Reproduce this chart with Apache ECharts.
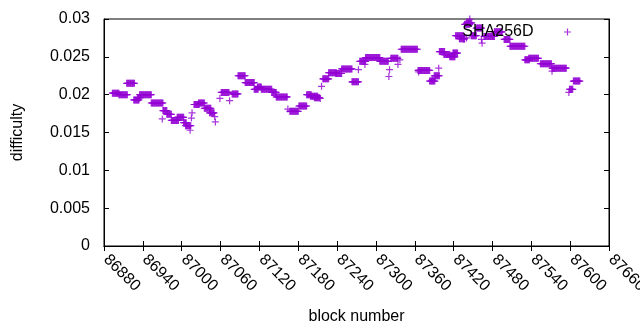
<!DOCTYPE html>
<html>
<head>
<meta charset="utf-8">
<script src="https://cdn.jsdelivr.net/npm/echarts@6/dist/echarts.min.js"></script>
<style>
  html, body { margin: 0; padding: 0; background: #fff; }
  #chart { width: 640px; height: 330px; }
</style>
</head>
<body>
<div id="chart"></div>
<script>
// runs of blocks that share one difficulty value (first block, last block, value)
const runStart = [86893, 86903, 86915, 86926, 86932, 86935, 86953, 86970, 86971, 86977,
  86984, 86993, 87003, 87006, 87013, 87015, 87016, 87019, 87026, 87035,
  87043, 87051, 87052, 87059, 87061, 87074, 87078, 87087, 87098, 87112,
  87117, 87123, 87139, 87146, 87164, 87167, 87181, 87193, 87199, 87205,
  87214, 87216, 87218, 87227, 87238, 87247, 87263, 87273, 87275, 87283,
  87284, 87306, 87320, 87321, 87323, 87334, 87337, 87339, 87365, 87366,
  87383, 87387, 87390, 87397, 87398, 87405, 87414, 87419, 87423, 87429,
  87436, 87437, 87440, 87440, 87445, 87447, 87455, 87463, 87464, 87467,
  87483, 87498, 87507, 87530, 87536, 87554, 87572, 87572, 87598, 87599,
  87605]
const runEnd = [86903, 86916, 86927, 86934, 86936, 86953, 86971, 86970, 86977, 86984,
  86995, 87003, 87007, 87014, 87013, 87015, 87016, 87027, 87035, 87045,
  87050, 87051, 87052, 87059, 87073, 87074, 87087, 87098, 87112, 87118,
  87123, 87139, 87146, 87163, 87164, 87180, 87193, 87200, 87210, 87213,
  87214, 87216, 87227, 87239, 87247, 87263, 87273, 87273, 87284, 87283,
  87306, 87319, 87320, 87321, 87334, 87334, 87337, 87364, 87383, 87366,
  87391, 87387, 87398, 87397, 87406, 87414, 87422, 87426, 87435, 87437,
  87436, 87445, 87440, 87448, 87445, 87455, 87463, 87463, 87464, 87483,
  87495, 87507, 87530, 87537, 87551, 87571, 87594, 87572, 87598, 87604,
  87615]
const runValue = [0.0202, 0.0200, 0.0215, 0.0193, 0.0196, 0.0200, 0.0189, 0.0168, 0.0179, 0.0174,
  0.0166, 0.0170, 0.0163, 0.0159, 0.0153, 0.0169, 0.0176, 0.0187, 0.0189, 0.0182,
  0.0176, 0.0171, 0.0164, 0.0195, 0.0203, 0.0192, 0.0201, 0.0225, 0.0216, 0.0207,
  0.0210, 0.0207, 0.0203, 0.0197, 0.0181, 0.0178, 0.0185, 0.0200, 0.0198, 0.0196,
  0.0195, 0.0211, 0.0221, 0.0229, 0.0228, 0.0234, 0.0217, 0.0233, 0.0244, 0.0240,
  0.0249, 0.0244, 0.0224, 0.0233, 0.0248, 0.0240, 0.0246, 0.0260, 0.0232, 0.0230,
  0.0218, 0.0220, 0.0225, 0.0235, 0.0257, 0.0253, 0.0250, 0.0255, 0.0278, 0.0274,
  0.0273, 0.0293, 0.0275, 0.0295, 0.0300, 0.0278, 0.0288, 0.0273, 0.0268, 0.0277,
  0.0283, 0.0273, 0.0264, 0.0246, 0.0248, 0.0241, 0.0235, 0.0231, 0.0203, 0.0207,
  0.0218]

const yTickLabels = ['0', '0.005', '0.01', '0.015', '0.02', '0.025', '0.03']
const seriesName = 'SHA256D'

// one point per block
const points = []
for (let i = 0; i < runStart.length; i++) {
  for (let b = runStart[i]; b <= runEnd[i]; b++) {
    points.push([b, runValue[i]])
  }
}

// gnuplot style "+" mark
const plus = 'path://M2.9,0h1.2v2.9h2.9v1.2h-2.9v2.9h-1.2v-2.9h-2.9v-1.2h2.9z'
const font = "'Liberation Sans', Arial, sans-serif"
const purple = '#9400d3'

const chart = echarts.init(document.getElementById('chart'), null, { renderer: 'canvas' })

const mirrorTick = { show: true, inside: true, length: 5, lineStyle: { color: '#000', width: 1 } }

chart.setOption({
  animation: false,
  textStyle: { fontFamily: font },
  grid: {
    left: 104,
    right: 31,
    top: 19,
    bottom: 84,
    outerBoundsMode: 'none',
    containLabel: false,
    show: true,
    borderColor: '#000',
    borderWidth: 1
  },
  legend: {
    data: [{ name: seriesName, icon: plus }],
    right: 69,
    top: 24,
    padding: 0,
    align: 'right',
    itemWidth: 58,
    itemHeight: 7,
    itemStyle: { color: purple },
    textStyle: { color: '#000', fontSize: 16, fontFamily: font },
    selectedMode: false
  },
  xAxis: [{
    type: 'value',
    min: 86880,
    max: 87660,
    interval: 60,
    name: 'block number',
    nameLocation: 'middle',
    nameGap: 63,
    nameTextStyle: { color: '#000', fontSize: 16 },
    axisLine: { show: true, lineStyle: { color: '#000' } },
    axisTick: mirrorTick,
    splitLine: { show: false },
    axisLabel: {
      rotate: -45,
      margin: 9,
      padding: [0, 0, 0, 3],
      color: '#000',
      fontSize: 16,
      formatter: v => String(v)
    }
  }, {
    type: 'value',
    position: 'top',
    min: 86880,
    max: 87660,
    interval: 60,
    axisLine: { show: true, lineStyle: { color: '#000' } },
    axisTick: mirrorTick,
    axisLabel: { show: false },
    splitLine: { show: false }
  }],
  yAxis: [{
    type: 'value',
    min: 0,
    max: 0.03,
    interval: 0.005,
    name: 'difficulty',
    nameLocation: 'middle',
    nameGap: 78,
    nameTextStyle: { color: '#000', fontSize: 16 },
    axisLine: { show: true, lineStyle: { color: '#000' } },
    axisTick: mirrorTick,
    splitLine: { show: false },
    axisLabel: {
      margin: 14,
      color: '#000',
      fontSize: 16,
      formatter: v => yTickLabels[Math.round(v / 0.005)]
    }
  }, {
    type: 'value',
    position: 'right',
    min: 0,
    max: 0.03,
    interval: 0.005,
    axisLine: { show: true, lineStyle: { color: '#000' } },
    axisTick: mirrorTick,
    axisLabel: { show: false },
    splitLine: { show: false }
  }],
  series: [{
    name: seriesName,
    type: 'scatter',
    xAxisIndex: 0,
    yAxisIndex: 0,
    symbol: plus,
    symbolSize: 7,
    itemStyle: { color: purple },
    data: points
  }]
})
</script>
</body>
</html>
